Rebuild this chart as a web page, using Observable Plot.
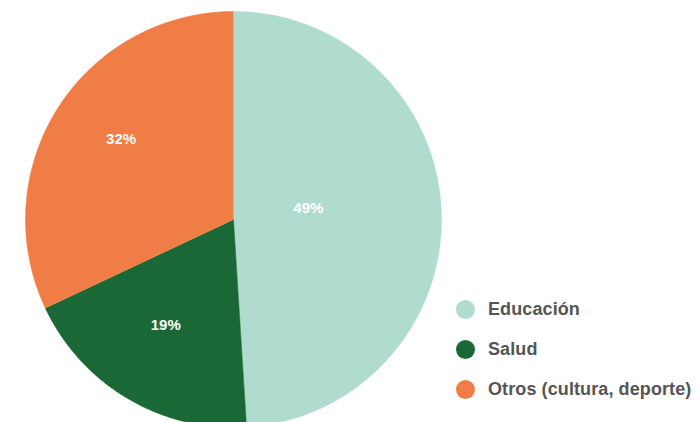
<!DOCTYPE html>
<html><head><meta charset="utf-8">
<script src="https://cdn.jsdelivr.net/npm/d3@7"></script>
<script src="https://cdn.jsdelivr.net/npm/@observablehq/plot@0.6"></script>
<style>
body{margin:0;background:#fff;font-family:"Liberation Sans",Arial,sans-serif;}
#wrap{position:relative;width:700px;height:422px;overflow:hidden;}
#legend{position:absolute;left:456px;top:289px;}
.item{display:flex;align-items:center;height:40px;font-weight:bold;font-size:18px;color:#555;letter-spacing:0.1px;}
.sw{width:19px;height:19px;border-radius:50%;margin-right:13px;}
</style></head>
<body><div id="wrap"><div id="legend"></div></div>
<script>
const categories = ["Educación", "Salud", "Otros (cultura, deporte)"];
const values = [49, 19, 32];
const colors = ["#b0dbcf", "#196835", "#f07d45"];

const pie = d3.pie().sort(null).value(d => d.value)(categories.map((c, i) => ({cat: c, value: values[i]})));
const poly = [];
pie.forEach(s => {
  const n = 120;
  poly.push({cat: s.data.cat, x: 0, y: 0});
  for (let k = 0; k <= n; k++) {
    const a = s.startAngle + (s.endAngle - s.startAngle) * k / n;
    poly.push({cat: s.data.cat, x: Math.sin(a), y: Math.cos(a)});
  }
});
const labels = pie.map(s => {
  const a = (s.startAngle + s.endAngle) / 2;
  const frac = (s.endAngle - s.startAngle) / (2 * Math.PI);
  const lr = frac > 0.45 ? 0.36 : 0.64;
  return {x: lr * Math.sin(a), y: lr * Math.cos(a), text: s.data.value + "%"};
});

const chart = Plot.plot({
  width: 700, height: 422,
  margin: 0,
  x: {domain: [-1, 1], range: [25, 441], axis: null},
  y: {domain: [-1, 1], range: [427, 11], axis: null},
  color: {domain: categories, range: colors},
  marks: [
    Plot.line(poly, {x: "x", y: "y", z: "cat", fill: "cat", stroke: "cat", strokeWidth: 0.5, curve: "linear"}),
    Plot.text(labels, {x: "x", y: "y", dy: -9, text: "text", fill: "white", fontWeight: "bold", fontSize: 15, fontFamily: "Liberation Sans, Arial, sans-serif"})
  ]
});
document.getElementById("wrap").prepend(chart);

const lg = document.getElementById("legend");
categories.forEach((c, i) => {
  const d = document.createElement("div");
  d.className = "item";
  d.innerHTML = `<div class="sw" style="background:${colors[i]}"></div><span>${c}</span>`;
  lg.appendChild(d);
});
</script></body></html>
